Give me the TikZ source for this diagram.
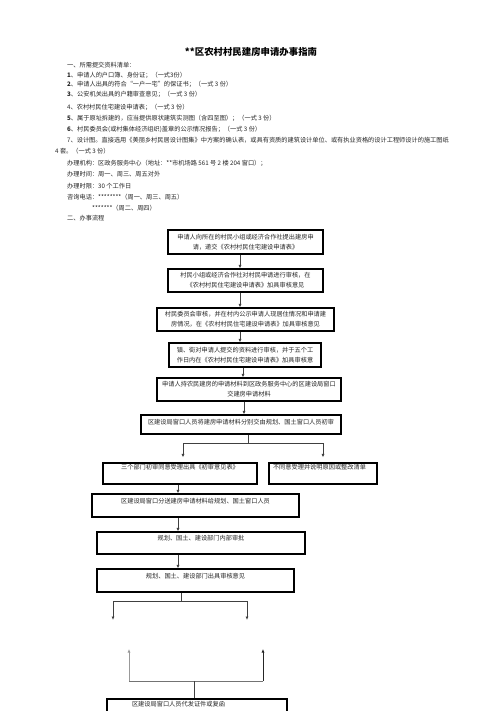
\documentclass[tikz,border=0pt]{standalone}
\usepackage{fontspec}
\setmainfont{Noto Sans CJK SC}
\usetikzlibrary{arrows.meta}
\begin{document}
\begin{tikzpicture}[x=1pt,y=-1pt,
  txt/.style={font=\fontsize{6.2}{10}\selectfont, inner sep=0pt, anchor=west, text=black!85},
  box/.style={draw, line width=1.1pt, inner sep=0pt, align=center, font=\fontsize{6.2}{10}\selectfont, text=black!85},
  tb/.style={text height=5pt, text depth=#1},
  conn/.style={draw=black!75, line width=0.8pt},
  arr/.style={conn, -{Latex[length=3.5pt,width=3pt]}}]
\useasboundingbox (0,0) rectangle (503,711);
\clip (0,0) rectangle (503,711);
\fill[white] (0,0) rectangle (503,711);

% title and header text
\node[font=\bfseries\fontsize{9.4}{11}\selectfont, inner sep=0pt] (title) at (251,52) {**区农村村民建房申请办事指南};
\node[txt] (t0) at (67,65) {一、所需提交资料清单：};
\node[txt] (t1) at (67,75) {\textbf{1}、申请人的户口簿、身份证；（一式3份）};
\node[txt] (t2) at (67,84) {\textbf{2}、申请人出具的符合“一户一宅”的保证书；（一式 3 份）};
\node[txt] (t3) at (67,94) {\textbf{3}、公安机关出具的户籍审查意见；（一式 3 份）};
\node[txt] (t4) at (67,107) {4、农村村民住宅建设申请表；（一式 3 份）};
\node[txt] (t5) at (67,118) {\textbf{5}、属于原址拆建的，应当提供原状建筑实测图（含四至图）；（一式 3 份）};
\node[txt] (t6) at (67,129) {\textbf{6}、村民委员会(或村集体经济组织)盖章的公示情况报告；（一式 3 份）};
\node[txt] (t7) at (67,140) {7、设计图。直接选用《美丽乡村民居设计图集》中方案的确认表，或具有资质的建筑设计单位、或有执业资格的设计工程师设计的施工图纸};
\node[txt] (t8) at (55,151) {4 套。（一式 3 份）};
\node[txt] (t9) at (67,163) {办理机构：区政务服务中心（地址：**市机场路 561 号 2 楼 204 窗口）；};
\node[txt] (t10) at (67,174) {办理时间：周一、周三、周五对外};
\node[txt] (t11) at (67,186) {办理时限：30 个工作日};
\node[txt] (t12) at (67,197) {咨询电话：********（周一、周三、周五）};
\node[txt] (t13) at (92,208) {*******（周二、周四）};
\node[txt] (t14) at (67,218) {二、办事流程};

% boxes
\node[box, minimum width=155pt, minimum height=24pt] (b1) at (245.5,242) {申请人向所在的村民小组或经济合作社提出建房申\\请，递交《农村村民住宅建设申请表》};
\node[box, minimum width=155pt, minimum height=23pt] (b2) at (245.5,280.5) {村民小组或经济合作社对村民申请进行审核，在\\《农村村民住宅建设申请表》加具审核意见};
\node[box, minimum width=177pt, minimum height=23pt] (b3) at (245.5,319.5) {村民委员会审核，并在村内公示申请人现居住情况和申请建\\房情况，在《农村村民住宅建设申请表》加具审核意见};
\node[box, minimum width=152pt, minimum height=24pt] (b4) at (245,355) {镇、街对申请人提交的资料进行审核，并于五个工\\作日内在《农村村民住宅建设申请表》加具审核意};
\node[box, minimum width=184pt, minimum height=23pt] (b5) at (249,389.5) {申请人持农民建房的申请材料到区政务服务中心的区建设局窗口\\交建房申请材料};
\node[box, tb=5.3pt, minimum width=200pt, minimum height=19pt] (b6) at (241,424.5) {区建设局窗口人员将建房申请材料分别交由规划、国土窗口人员初审};
\node[box, tb=13.3pt, minimum width=154pt, minimum height=21pt] (b7) at (180,473.5) {三个部门初审同意受理出具《初审意见表》};
\node[box, tb=13.3pt, text width=100pt, align=left, minimum width=108pt, minimum height=21pt] (b8) at (323,473.5) {不同意受理并说明原因或整改清单};
\node[box, tb=9.3pt, minimum width=207pt, minimum height=23pt] (b9) at (195.5,505.5) {区建设局窗口分送建房申请材料给规划、国土窗口人员};
\node[box, tb=10.3pt, minimum width=208pt, minimum height=22pt] (b10) at (201,543) {规划、国土、建设部门内部审批};
\node[box, tb=9.3pt, minimum width=197pt, minimum height=23pt] (b11) at (195.5,580.5) {规划、国土、建设部门出具审核意见};
\node[box, tb=21.3pt, text width=130pt, align=left, minimum width=180pt, minimum height=31pt] (b12) at (197,714.5) {区建设局窗口人员代发证件或复函};

% connector x positions
\coordinate (xa) at (240,0);
\coordinate (xb) at (243,0);
\coordinate (xc) at (244,0);
\coordinate (xd) at (178,0);
\coordinate (xe) at (194,0);
\coordinate (j1) at (248,443);
\coordinate (l1) at (183,443);
\coordinate (r1) at (323,443);
\coordinate (j2) at (181,601);
\coordinate (l2) at (113,601);
\coordinate (r2) at (247,601);
\coordinate (e1) at (113,620);
\coordinate (e2) at (247,620);
\coordinate (u1) at (129,681);
\coordinate (u2) at (263,681);
\coordinate (f1) at (129,649);
\coordinate (f2) at (263,649);
\coordinate (m1) at (194,681);

\draw[arr] (b1.south -| xa) -- (b2.north -| xa);
\draw[arr] (b2.south -| xa) -- (b3.north -| xa);
\draw[arr] (b3.south -| xa) -- (b4.north -| xa);
\draw[arr] (b4.south -| xb) -- (b5.north -| xb);
\draw[arr] (b5.south -| xc) -- (b6.north -| xc);

\draw[conn] (b6.south -| j1) -- (j1);
\draw[conn] (l1) -- (r1);
\draw[arr, shorten >=5pt] (l1) -- (b7.north -| l1);
\draw[arr, shorten >=5pt] (r1) -- (b8.north -| r1);

\draw[arr] (b7.south -| xd) -- (b9.north -| xd);
\draw[arr] (b9.south -| xd) -- (b10.north -| xd);
\draw[arr] (b10.south -| xd) -- (b11.north -| xd);

\draw[conn] (b11.south -| j2) -- (j2);
\draw[conn] (l2) -- (r2);
\draw[arr] (l2) -- (e1);
\draw[arr] (r2) -- (e2);

\draw[conn, draw=black!40, -{Latex[length=3.5pt,width=3pt]}] (u1) -- (f1);
\draw[conn, draw=black!85, -{Latex[length=3.5pt,width=3pt]}] (u2) -- (f2);
\draw[conn, draw=black!55] (u1) -- (u2);
\draw[conn] (m1) -- (b12.north -| m1);
\end{tikzpicture}
\end{document}
